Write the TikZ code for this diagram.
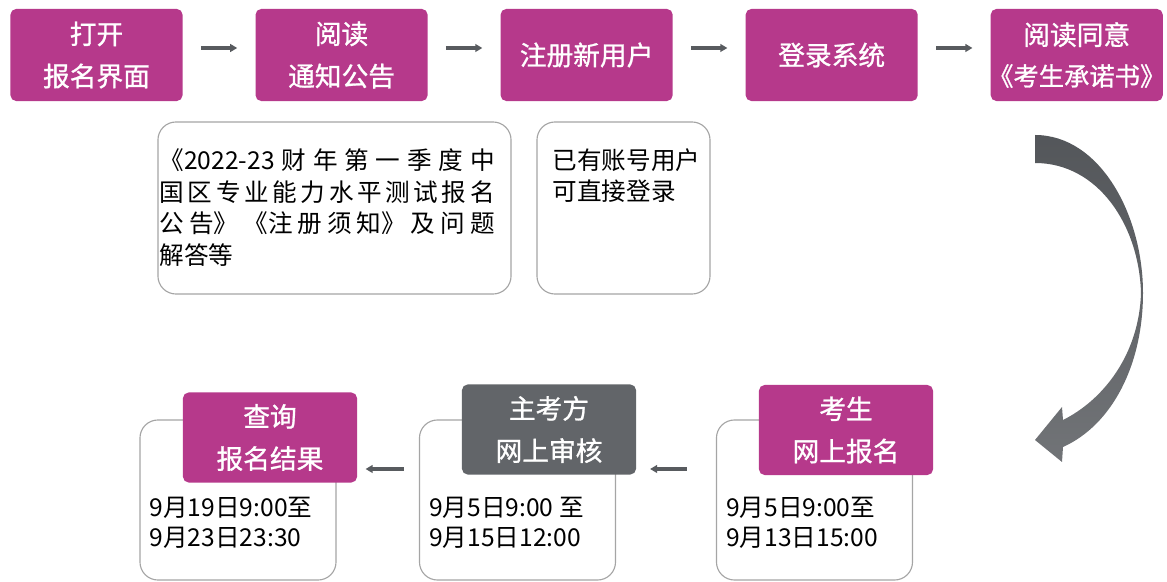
\documentclass[tikz,border=0pt]{standalone}
\usepackage{fontspec}
\setmainfont{Noto Sans CJK SC}
\newfontfamily\boxfont{Noto Sans CJK SC}[FakeBold=1]
\usetikzlibrary{arrows.meta,positioning}
\XeTeXlinebreaklocale "zh"
\XeTeXlinebreakskip = 0pt plus 10pt
\definecolor{stepmag}{RGB}{182,57,139}
\definecolor{stepgray}{RGB}{98,101,105}
\definecolor{arrowgray}{RGB}{88,91,95}
\definecolor{framegray}{RGB}{165,165,165}

\begin{document}
\begin{tikzpicture}[x=0.025cm,y=-0.025cm,node distance=6.125cm,
                    >={Triangle[length=5pt,width=5.5pt]}]
  \tikzstyle{stepbox}=[rectangle,rounded corners=4pt,fill=stepmag,text=white,minimum width=4.3cm,minimum height=2.3cm,align=center,font=\boxfont\fontsize{19}{30}\selectfont]
  \tikzstyle{notebox}=[rectangle,rounded corners=0.45cm,draw=framegray,line width=0.8pt,fill=white]
  \tikzstyle{flow}=[->,draw=arrowgray,line width=2.2pt]
  \tikzstyle{note}=[anchor=north west,inner sep=0pt,font=\fontsize{17.5}{22.4}\selectfont]
  \tikzstyle{datebox}=[notebox,minimum width=4.9cm,minimum height=4cm]
  \tikzstyle{date}=[anchor=north west,inner sep=0pt,align=left,font=\fontsize{17.5}{21.3}\selectfont]

  \useasboundingbox (0,0) rectangle (1167,582);

  % top row
  \node[stepbox] (s1) at (96.5,55)    {打开\\报名界面};
  \node[stepbox] (s2) [right of=s1]   {阅读\\通知公告};
  \node[stepbox] (s3) [right of=s2]   {注册新用户};
  \node[stepbox] (s4) [right of=s3]   {登录系统};
  \node[stepbox,inner xsep=0pt,font=\boxfont\fontsize{19}{29}\selectfont] (s5) [right of=s4]
    {阅读同意\\{\fontsize{18}{29}\selectfont\kern-0.15em《考生承诺书》\kern-0.15em}};

  \foreach \a/\b in {s1/s2,s2/s3,s3/s4,s4/s5}
    \draw[flow,shorten <=0.45cm,shorten >=0.45cm] ([yshift=0.175cm]\a.east) -- ([yshift=0.175cm]\b.west);

  % notes
  \node[notebox,minimum width=8.825cm,minimum height=4.3cm] (n1) at (334.5,208) {};
  \node[note,text width=8.375cm,align=justify] (t1) at ([xshift=0.05cm,yshift=-0.675cm]n1.north west)
    {《2022-23 财年第一季度中\linebreak 国区专业能力水平测试报名\linebreak 公告》《注册须知》及问题\linebreak 解答等};
  \node[notebox,minimum width=4.325cm,minimum height=4.3cm] (n2) at (623.5,208) {};
  \node[note,align=left] (t2) at ([xshift=0.4cm,yshift=-0.675cm]n2.north west) {已有账号用户\\可直接登录};

  % turn
  \shade[top color=arrowgray!95!black,bottom color=arrowgray!85!white]
    (1035,135) .. controls (1100,135) and (1143,215) .. (1143,293)
    .. controls (1143,365) and (1112,425) .. (1063,447)
    -- (1062,462) -- (1035,440) -- (1062,407) -- (1063,420)
    .. controls (1103,400) and (1139,355) .. (1141,293)
    .. controls (1139,225) and (1098,163) .. (1035,163) -- cycle;

  % bottom row
  \node[datebox] (w3) at (814.5,500) {};
  \node[date] (d3) at ([xshift=0.25cm,yshift=-1.925cm]w3.north west) {9月5日9:00至\\9月13日15:00};
  \node[stepbox,minimum width=4.35cm,minimum height=2.25cm] (b3) at (846,430) {考生\\网上报名};

  \node[datebox] (w2) at (517.5,500) {};
  \node[date] (d2) at ([xshift=0.25cm,yshift=-1.925cm]w2.north west) {9月5日9:00 至\\9月15日12:00};
  \node[stepbox,fill=stepgray,minimum width=4.35cm,minimum height=2.25cm] (b2) at (549,429.5) {主考方\\网上审核};

  \node[datebox] (w1) at (238,500) {};
  \node[date] (d1) at ([xshift=0.25cm,yshift=-1.925cm]w1.north west) {9月19日9:00至\\9月23日23:30};
  \node[stepbox,minimum width=4.35cm,minimum height=2.25cm] (b1) at (270,437.5) {查询\\报名结果};

  \draw[flow,shorten <=0.725cm,shorten >=0.85cm] ([yshift=0.775cm]w3.west) -- ([yshift=0.775cm]w2.east);
  \draw[flow,shorten <=0.375cm,shorten >=0.725cm] ([yshift=0.775cm]w2.west) -- ([yshift=0.775cm]w1.east);

\end{tikzpicture}
\end{document}
